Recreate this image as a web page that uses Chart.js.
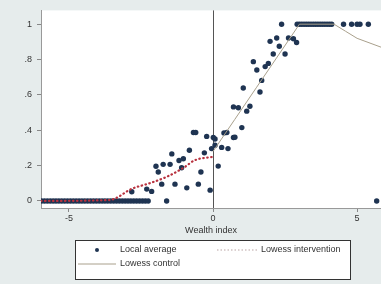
<!DOCTYPE html>
<html>
<head>
<meta charset="utf-8">
<script src="https://cdn.jsdelivr.net/npm/chart.js@4/dist/chart.umd.min.js"></script>
<style>
  html, body { margin: 0; padding: 0; background: #e6ecec; }
  canvas { display: block; }
</style>
</head>
<body>
<canvas id="chart" width="381" height="284"></canvas>
<script>
// Local averages (wealth index vs share)
const localX = [
  -5.95, -5.85, -5.75, -5.65, -5.55, -5.45, -5.35, -5.25, -5.15, -5.05,
  -4.95, -4.85, -4.75, -4.65, -4.55, -4.45, -4.35, -4.25, -4.15, -4.05,
  -3.95, -3.85, -3.75, -3.65, -3.55, -3.45, -3.35, -3.25, -3.15, -3.05,
  -2.95, -2.85, -2.75, -2.65, -2.55, -2.45, -2.35, -2.25, -1.61, 5.68,
  -2.82, -2.30, -2.13, -1.98, -1.90, -1.78, -1.73, -1.49, -1.43, -1.32,
  -1.18, -1.09, -1.03, -0.91, -0.82, -0.68, -0.60, -0.51, -0.42, -0.30,
  -0.22, -0.10, -0.05, 0.01, 0.07, 0.07, 0.18, 0.30, 0.38, 0.48,
  0.52, 0.71, 0.76, 0.71, 0.88, 1.00, 1.05, 1.17, 1.28, 1.40,
  1.52, 1.63, 1.69, 1.81, 1.92, 1.98, 2.09, 2.21, 2.30, 2.50,
  2.62, 2.79, 2.90,
  2.38, 2.92, 3.00, 3.08, 3.16, 3.24, 3.32, 3.40, 3.48, 3.56,
  3.64, 3.72, 3.80, 3.88, 3.96, 4.04, 4.12, 4.53, 4.81, 5.00,
  5.10, 5.39
];
const localY = [
  0, 0, 0, 0, 0, 0, 0, 0, 0, 0,
  0, 0, 0, 0, 0, 0, 0, 0, 0, 0,
  0, 0, 0, 0, 0, 0, 0, 0, 0, 0,
  0, 0, 0, 0, 0, 0, 0, 0, 0, 0,
  0.052, 0.067, 0.054, 0.196, 0.164, 0.095, 0.207, 0.207, 0.266, 0.095,
  0.229, 0.188, 0.239, 0.074, 0.287, 0.387, 0.387, 0.095, 0.164, 0.272,
  0.365, 0.061, 0.296, 0.359, 0.315, 0.350, 0.197, 0.303, 0.385, 0.387,
  0.296, 0.359, 0.360, 0.532, 0.527, 0.415, 0.639, 0.508, 0.536, 0.788,
  0.741, 0.616, 0.682, 0.760, 0.778, 0.903, 0.831, 0.922, 0.875, 0.831,
  0.922, 0.918, 0.896,
  1, 1, 1, 1, 1, 1, 1, 1, 1, 1,
  1, 1, 1, 1, 1, 1, 1, 1, 1, 1,
  1, 1
];

// Lowess fits
const interX = [-5.97, -3.60, -2.80, -2.20, -1.60, -1.00, -0.65, 0];
const interY = [0, 0.005, 0.070, 0.100, 0.137, 0.190, 0.229, 0.250];
const controlX = [0, 0.75, 1.5, 2.25, 3.0, 4.2, 4.6, 5.0, 5.83];
const controlY = [0.28, 0.46, 0.64, 0.82, 1.0, 1.0, 0.96, 0.92, 0.87];

const xTicks = [-5, 0, 5];
const yTicks = [0, 0.2, 0.4, 0.6, 0.8, 1];
const yTickLabels = ['0', '.2', '.4', '.6', '.8', '1'];

const toPoints = (xs, ys) => xs.map((x, i) => ({ x: x, y: ys[i] }));

const font = { family: 'Liberation Sans, Arial, sans-serif', size: 9 };
const textColor = '#333';

// plot background: grey page, white plot region
const bgPlugin = {
  id: 'bg',
  beforeDraw(chart) {
    const c = chart.ctx, a = chart.chartArea;
    c.save();
    c.fillStyle = '#e6ecec';
    c.fillRect(0, 0, chart.width, chart.height);
    c.fillStyle = '#ffffff';
    c.fillRect(a.left, a.top, a.right - a.left, a.bottom - a.top);
    c.restore();
  }
};

// boxed two-column legend under the axis title
const legendPlugin = {
  id: 'boxLegend',
  afterDraw(chart) {
    const c = chart.ctx;
    const ds = chart.data.datasets;
    c.save();
    c.fillStyle = '#ffffff';
    c.fillRect(75.5, 240.5, 275, 39);
    c.strokeStyle = '#333';
    c.lineWidth = 1;
    c.strokeRect(75.5, 240.5, 275, 39);

    c.font = font.size + 'px ' + font.family;
    c.fillStyle = textColor;
    c.textBaseline = 'middle';

    // Local average marker
    c.beginPath();
    c.arc(97, 250, 2, 0, Math.PI * 2);
    c.fillStyle = ds[0].backgroundColor;
    c.fill();
    c.fillStyle = textColor;
    c.fillText(ds[0].label, 120, 250);

    // Lowess intervention
    c.beginPath();
    c.setLineDash([1.5, 2]);
    c.strokeStyle = '#b9a3a3';
    c.moveTo(217, 250);
    c.lineTo(257, 250);
    c.stroke();
    c.setLineDash([]);
    c.fillText(ds[1].label, 261, 250);

    // Lowess control
    c.beginPath();
    c.strokeStyle = ds[2].borderColor;
    c.moveTo(78, 264);
    c.lineTo(116, 264);
    c.stroke();
    c.fillText(ds[2].label, 120, 264);
    c.restore();
  }
};

new Chart(document.getElementById('chart').getContext('2d'), {
  type: 'scatter',
  data: {
    datasets: [
      {
        label: 'Local average',
        data: toPoints(localX, localY),
        backgroundColor: '#1f3452',
        borderColor: '#1f3452',
        pointRadius: 2.7,
        pointBorderWidth: 0,
        order: 3
      },
      {
        label: 'Lowess intervention',
        type: 'line',
        data: toPoints(interX, interY),
        borderColor: '#b8323f',
        borderWidth: 2.2,
        borderDash: [0.5, 3.5],
        borderCapStyle: 'round',
        pointRadius: 0,
        cubicInterpolationMode: 'monotone',
        order: 1
      },
      {
        label: 'Lowess control',
        type: 'line',
        data: toPoints(controlX, controlY),
        borderColor: '#a9a08c',
        borderWidth: 1,
        pointRadius: 0,
        tension: 0,
        order: 2
      }
    ]
  },
  options: {
    responsive: false,
    animation: false,
    layout: { autoPadding: false, padding: { top: 8, right: 0, bottom: 48, left: 0 } },
    plugins: { legend: { display: false }, tooltip: { enabled: false } },
    scales: {
      x: {
        type: 'linear',
        min: -5.97,
        max: 5.83,
        afterBuildTicks: s => { s.ticks = xTicks.map(v => ({ value: v })); },
        afterFit: s => { s.height = 28; },
        grid: {
          color: c => (c.tick && c.tick.value === 0) ? '#555' : 'rgba(0,0,0,0)',
          tickColor: '#888',
          tickLength: 4
        },
        border: { color: '#999' },
        ticks: { font: font, color: textColor, padding: 1, maxRotation: 0 },
        title: { display: true, text: 'Wealth index', font: font, color: textColor, padding: { top: -2, bottom: 0 } }
      },
      y: {
        type: 'linear',
        min: -0.04,
        max: 1.078,
        afterBuildTicks: s => { s.ticks = yTicks.map(v => ({ value: v })); },
        afterFit: s => { s.width = 41; },
        grid: { drawOnChartArea: false, tickColor: '#888', tickLength: 4 },
        border: { color: '#999' },
        ticks: {
          font: font,
          color: textColor,
          padding: 5,
          callback: v => {
            const i = yTicks.findIndex(t => Math.abs(t - v) < 1e-9);
            return i >= 0 ? yTickLabels[i] : '';
          }
        }
      }
    }
  },
  plugins: [bgPlugin, legendPlugin]
});
</script>
</body>
</html>
